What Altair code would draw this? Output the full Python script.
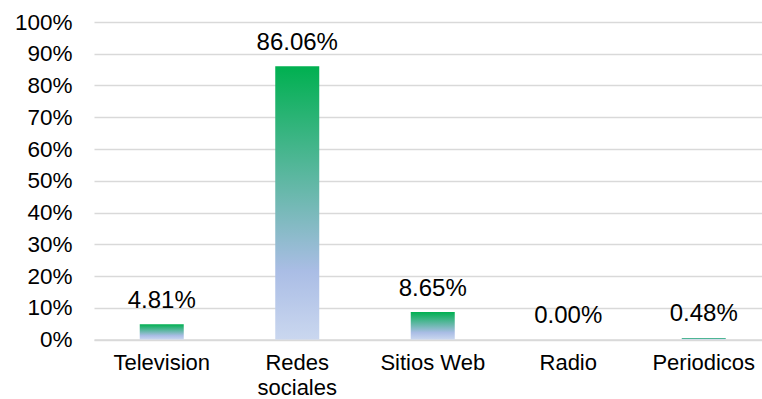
import altair as alt
import pandas as pd

# Share of respondents by media channel
categories = ["Television", "Redes sociales", "Sitios Web", "Radio", "Periodicos"]
values = [4.81, 86.06, 8.65, 0.00, 0.48]
y_ticks = [0, 0.1, 0.2, 0.3, 0.4, 0.5, 0.6, 0.7, 0.8, 0.9, 1.0]

df = pd.DataFrame({"medio": categories, "pct": [v / 100 for v in values]})

FONT = "Liberation Sans"

bar_fill = alt.LinearGradient(
    gradient="linear",
    x1=0, x2=0, y1=1, y2=0,
    stops=[
        alt.GradientStop(color="#CAD7EF", offset=0),
        alt.GradientStop(color="#AABDE5", offset=0.25),
        alt.GradientStop(color="#00B050", offset=1),
    ],
)

x_enc = alt.X(
    "medio:N",
    sort=None,
    title=None,
    scale=alt.Scale(range=[0, 677.5], paddingInner=0, paddingOuter=0),
    axis=alt.Axis(
        labelAngle=0,
        labelFont=FONT,
        labelFontSize=22,
        labelColor="#000000",
        labelPadding=13,
        labelLineHeight=25,
        labelExpr="datum.label == 'Redes sociales' ? ['Redes', 'sociales'] : datum.label",
        labelOverlap=False,
        ticks=False,
        domainColor="#D9D9D9",
        domainWidth=1.5,
        grid=False,
    ),
)

y_enc = alt.Y(
    "pct:Q",
    title=None,
    scale=alt.Scale(domain=[0, 1], nice=False),
    axis=alt.Axis(
        values=y_ticks,
        tickCount=11,
        format=".0%",
        labelFont=FONT,
        labelFontSize=22.5,
        labelColor="#000000",
        labelPadding=22,
        labelOverlap=False,
        labelBound=False,
        ticks=False,
        domain=False,
        gridColor="#D9D9D9",
        gridWidth=1.5,
    ),
)

bars = alt.Chart(df).mark_bar(color=bar_fill, width=44).encode(
    x=x_enc,
    y=y_enc,
)

labels = alt.Chart(df).mark_text(
    font=FONT, fontSize=24, color="#000000", baseline="alphabetic", dy=-16.5
).encode(
    x=x_enc,
    y=y_enc,
    text=alt.Text("pct:Q", format=".2%"),
)

chart = (
    alt.layer(bars, labels)
    .properties(
        width=668,
        height=317.5,
        background="white",
        autosize=alt.AutoSizeParams(type="none"),
        padding={"left": 94, "top": 22, "right": 0, "bottom": 59.5},
    )
    .configure_view(stroke=None)
)

chart.save("out.html", embed_options={"renderer": "svg", "actions": False})
